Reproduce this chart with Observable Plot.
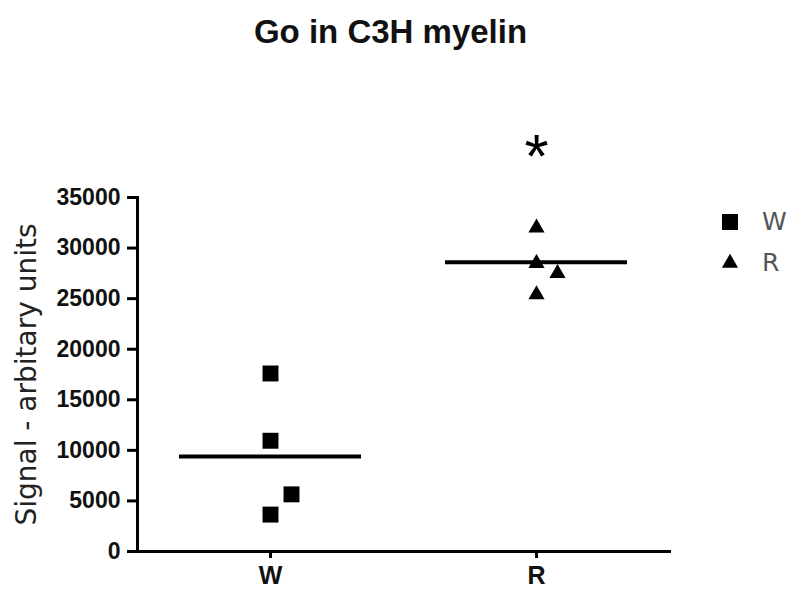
<!DOCTYPE html>
<html><head><meta charset="utf-8">
<script src="https://cdn.jsdelivr.net/npm/d3@7"></script>
<script src="https://cdn.jsdelivr.net/npm/@observablehq/plot@0.6"></script>
<style>
body{margin:0;background:#fff;}
#wrap{position:relative;width:797px;height:590px;overflow:hidden;}
#title{height:60px;box-sizing:border-box;padding-top:15px;padding-right:16px;text-align:center;font-family:"Liberation Sans",Arial,sans-serif;font-weight:bold;font-size:33px;line-height:33px;color:#111;}
#legend{position:absolute;left:720px;top:201px;font-family:"DejaVu Sans",sans-serif;font-size:25px;color:#555;}
#legend .row{display:flex;align-items:center;height:41px;}
#legend svg{display:block;}
#legend span{margin-left:22px;}
</style></head><body>
<div id="wrap"><div id="title">Go in C3H myelin</div><div id="chart"></div><div id="legend"></div></div>
<script>
// categories
const groups = ["W", "R"];
const groupSymbols = ["square", "triangle"];
// series values (signal, arbitrary units)
const wValues = [17600, 10950, 5650, 3650];
const rValues = [32000, 28500, 27500, 25400];
// which points are drawn beside the column (overlap nudge)
const wNudged = [false, false, true, false];
const rNudged = [false, false, true, false];
// group means (horizontal bars)
const meanValues = [9400, 28600];
// y tick labels
const yTicks = [0, 5000, 10000, 15000, 20000, 25000, 30000, 35000];
// significance marker
const sigGroup = "R";
const sigText = "*";
const sigLevel = 39000;
const yLabel = "Signal - arbitary units";

const points = [
  ...wValues.map((v, i) => ({group: "W", value: v, nudged: wNudged[i]})),
  ...rValues.map((v, i) => ({group: "R", value: v, nudged: rNudged[i]}))
];
const means = groups.map((g, i) => ({group: g, mean: meanValues[i]}));
const symbolOf = g => groupSymbols[groups.indexOf(g)];
const rOf = {square: 9, triangle: 6};

function dotsFor(g) {
  const s = symbolOf(g);
  const base = {x: "group", y: "value", symbol: () => s, fill: "#000", stroke: "none", r: rOf[s]};
  return [
    Plot.dot(points.filter(d => d.group === g && !d.nudged), base),
    Plot.dot(points.filter(d => d.group === g && d.nudged), {...base, dx: 21})
  ];
}

const chart = Plot.plot({
  width: 797,
  height: 530,
  marginTop: 137,
  marginBottom: 39,
  marginLeft: 137,
  marginRight: 128,
  style: {fontFamily: "'Liberation Sans', Arial, sans-serif", color: "#111", background: "#fff"},
  x: {type: "band", domain: groups, paddingInner: 0.316, paddingOuter: 0.158, label: null},
  y: {domain: [0, 35000], label: null},
  symbol: {domain: groups, range: groupSymbols},
  marks: [
    Plot.frame({anchor: "left", strokeWidth: 3, stroke: "#000"}),
    Plot.frame({anchor: "bottom", strokeWidth: 3, stroke: "#000"}),
    Plot.axisY({ticks: yTicks, tickFormat: "d", tickSize: 10, tickPadding: 7, strokeWidth: 3, stroke: "#000", fontSize: 23, fontWeight: "bold", label: null}),
    Plot.axisX({tickSize: 7, tickPadding: 8, strokeWidth: 3, stroke: "#000", fontSize: 25, fontWeight: "bold", label: null}),
    Plot.tickY(means, {x: "group", y: "mean", strokeWidth: 4, stroke: "#000"}),
    ...groups.flatMap(dotsFor),
    Plot.text([{group: sigGroup, value: sigLevel}], {x: "group", y: "value", text: () => sigText, fontSize: 62, fill: "#000"}),
    Plot.text([yLabel], {frameAnchor: "left", textAnchor: "middle", rotate: -90, dx: -110, text: d => d, fontSize: 28, fontFamily: "'DejaVu Sans', sans-serif", fill: "#222"})
  ]
});
document.getElementById("chart").appendChild(chart);

// legend (to the right of the plot)
const legend = d3.select("#legend");
groups.forEach((g, i) => {
  const s = groupSymbols[i];
  const row = legend.append("div").attr("class", "row");
  const svg = row.append("svg").attr("width", 20).attr("height", 20);
  const sym = s === "square" ? d3.symbolSquare : d3.symbolTriangle;
  svg.append("path")
    .attr("transform", "translate(10,10)")
    .attr("d", d3.symbol(sym, Math.PI * rOf[s] * rOf[s])())
    .attr("fill", "#000");
  row.append("span").text(g);
});
</script>
</body></html>
